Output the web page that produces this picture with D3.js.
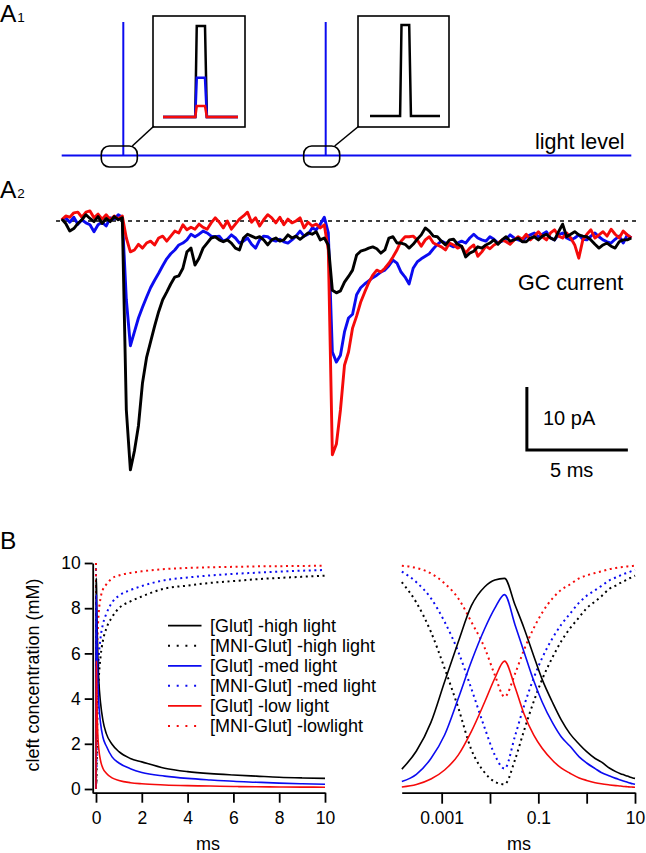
<!DOCTYPE html>
<html><head><meta charset="utf-8">
<script src="https://cdn.jsdelivr.net/npm/d3@7"></script>
<style>
html,body{margin:0;padding:0;background:#fff;}
svg{display:block;font-family:"Liberation Sans",Arial,Helvetica,sans-serif;}
</style>
</head><body>
<svg id="c" width="646" height="853"></svg>
<script>
// ---------- DATA ----------
// A2: GC current traces (pA), sampled every dt ms
const dt = 0.2;
const traceBlack = [0.3,-0.4,-1.6,-1.2,-0.4,0.2,1.0,0.4,-0.1,0.7,-0.4,0.4,-0.1,0.7,0.2,0.5,
 -30,-39.5,-36.5,-32.5,-25.7,-21.7,-19.2,-16.7,-14.4,-12.5,-11.3,-10.0,-8.9,-8.7,-7.5,-4.9,-4.3,-7.0,-5.9,-4.3,-3.5,-2.7,
 -2.5,-3.0,-3.3,-3.0,-3.5,-4.3,-4.6,-2.7,-2.1,-2.4,-2.7,-2.5,-3.0,-3.8,-3.0,-2.7,-3.2,-3.0,-2.2,-2.7,-2.4,-2.9,-2.4,-1.9,-2.1,-1.7,-3.0,-2.7,
 -3.8,-11.0,-11.4,-11.1,-9.7,-8.8,-7.8,-5.4,-4.8,-4.6,-4.3,-4.1,-4.4,-5.1,-4.6,-2.7,-2.5,-3.5,-3.5,-3.7,-4.3,-3.7,-2.9,-2.2,-1.1,-1.6,-2.4,
 -2.5,-3.2,-3.8,-3.0,-2.9,-3.7,-4.0,-5.7,-5.1,-4.8,-4.1,-4.3,-3.8,-3.5,-3.0,-3.7,-3.0,-2.5,-3.2,-3.0,-2.7,-3.3,-3.3,-2.7,-2.5,-3.0,-2.4,-2.1,-2.7,-3.0,-1.7,-0.5,-2.5,-2.1,-1.7,-2.2,-2.4,-2.5,-3.0,-3.7,-4.3,-3.8,-3.5,-4.0,-4.3,-3.3,-3.0,-3.0,-2.7];
const traceBlue = [0.2,0.5,-0.2,0.6,-0.5,0.2,-0.3,-0.6,-1.7,-0.6,-0.2,-0.8,0.5,0.3,1.0,0.6,
 -12.5,-19.8,-17.6,-15.4,-13.7,-12.1,-10.6,-9.4,-8.3,-7.1,-6.0,-5.2,-4.6,-3.8,-3.5,-3.0,-2.1,-2.5,-2.1,-1.6,-1.9,-2.4,-2.5,
 -2.4,-3.2,-2.9,-2.2,-2.7,-3.5,-3.2,-2.7,-3.7,-4.3,-3.0,-2.4,-2.5,-3.0,-3.2,-2.9,-3.3,-3.5,-3.0,-2.4,-1.6,-2.4,-2.1,-1.1,-1.4,-0.5,0.6,-1.9,
 -20.8,-22.4,-21.3,-17.6,-15.4,-14.8,-11.7,-10.6,-10.0,-9.5,-9.0,-8.6,-8.1,-7.8,-7.1,-6.2,-6.7,-8.1,-8.9,-10.0,-7.5,-6.5,-6.0,-5.6,-5.2,-4.4,
 -3.7,-3.2,-3.5,-3.8,-4.1,-3.5,-3.2,-3.5,-2.7,-2.1,-2.7,-3.0,-3.2,-2.5,-2.9,-3.5,-3.2,-2.9,-2.2,-2.7,-3.0,-3.2,-2.5,-2.2,-1.9,-2.5,-2.1,-1.7,
 -2.7,-3.0,-2.2,-1.9,-2.7,-3.0,-2.7,-2.2,-2.9,-3.0,-2.4,-1.9,-2.5,-3.0,-3.3,-3.5,-2.9,-2.4,-3.5,-2.2,-2.7];
const traceRed = [0.2,0.8,0.6,1.3,1.4,0.6,1.4,1.6,0.5,1.1,0.3,1.0,0.2,0.8,0.3,0.8,
 -2.7,-4.9,-4.6,-3.7,-4.3,-3.5,-3.2,-3.8,-2.7,-2.4,-3.2,-2.4,-1.6,-1.9,-0.6,-1.4,-1.0,-1.3,-0.5,-1.0,-1.3,-0.3,0.5,
 -0.2,-1.1,0.0,-1.3,-0.5,0.3,0.8,1.4,-0.2,0.5,-0.8,0.2,1.0,0.5,-0.3,0.6,-0.6,0.3,-0.3,0.0,0.5,-1.1,-0.2,-0.8,-0.5,-1.1,-0.6,-4.6,
 -37.1,-35.4,-30.0,-22.9,-20.8,-17.0,-15.1,-12.9,-11.3,-9.8,-8.6,-7.8,-8.1,-7.5,-6.7,-5.7,-4.6,-3.2,-2.5,-2.5,-2.4,-3.0,-4.0,-3.0,-2.5,
 -3.5,-3.8,-4.1,-4.6,-3.5,-3.8,-4.3,-4.0,-5.1,-4.3,-3.8,-5.6,-4.9,-4.0,-4.4,-3.8,-3.5,-3.0,-3.3,-3.7,-3.0,-2.5,-2.9,-2.1,-3.0,-2.4,-1.7,
 -2.5,-3.0,-1.9,-1.4,-2.4,-2.7,-1.9,-2.7,-3.8,-5.9,-3.0,-2.1,-1.4,-2.7,-2.2,-1.7,-2.4,-1.3,-2.1,-2.7,-1.6,-2.2,-2.7];
const traceColors = ["#0b0bf0", "#f50a0a", "#000000"];
const stimTimes = [3.05, 13.07];          // ms, flash times (light level)
const scaleBarMs = 5, scaleBarPA = 10;

// A1 insets: normalized pulse shape and amplitudes
const pulseX = [0, 0.43, 0.45, 0.56, 0.585, 1];
const pulseY = [0, 0, 1, 1, 0, 0];
const inset1Amps = [1, 0.43, 0.12];       // high (black), med (blue), low (red)
const inset1Colors = ["#000000", "#0b0bf0", "#f50a0a"];
const inset2Amps = [1];

// B: cleft concentration (mM) vs time (ms)
const concTime = [0, 0.00015, 0.0003, 0.0006, 0.00115, 0.0022, 0.0041, 0.0078, 0.0126, 0.02, 0.033, 0.05, 0.08, 0.12, 0.2, 0.3, 0.45, 0.7, 1, 1.5, 2, 3, 4, 5, 6, 7, 8, 9, 10];
const glutHigh = [0, 0.88, 1.68, 2.95, 4.75, 6.5, 8.1, 8.95, 9.25, 9.32, 8.14, 7.15, 5.9, 4.85, 3.8, 3.05, 2.45, 1.98, 1.65, 1.35, 1.2, 0.92, 0.77, 0.68, 0.62, 0.57, 0.52, 0.49, 0.47];
const mniHigh  = [10, 9.15, 8.25, 6.95, 5.34, 3.6, 1.75, 0.72, 0.32, 0.21, 1.3, 2.55, 3.86, 4.85, 5.86, 6.55, 7.1, 7.6, 8.0, 8.3, 8.52, 8.87, 9.0, 9.12, 9.2, 9.28, 9.34, 9.39, 9.44];
const glutMed  = [0, 0.33, 0.65, 1.35, 2.39, 4.0, 5.63, 7.1, 8.0, 8.6, 7.26, 6.1, 4.8, 3.85, 2.9, 2.3, 1.9, 1.42, 1.15, 0.9, 0.73, 0.57, 0.47, 0.4, 0.34, 0.3, 0.26, 0.23, 0.21];
const mniMed   = [10, 9.62, 9.15, 8.44, 7.4, 6.08, 4.45, 2.69, 1.5, 0.9, 2.35, 3.64, 4.9, 5.8, 6.7, 7.28, 7.75, 8.25, 8.55, 8.8, 8.98, 9.24, 9.36, 9.45, 9.52, 9.57, 9.62, 9.66, 9.69];
const glutLow  = [0, 0.09, 0.2, 0.44, 0.84, 1.5, 2.54, 3.86, 4.9, 5.66, 4.5, 3.35, 2.39, 1.8, 1.25, 0.92, 0.7, 0.49, 0.38, 0.28, 0.23, 0.18, 0.15, 0.13, 0.11, 0.1, 0.09, 0.085, 0.08];
const mniLow   = [10, 9.88, 9.78, 9.54, 9.1, 8.44, 7.4, 6.23, 5.04, 4.08, 5.1, 6.13, 7.11, 7.8, 8.45, 8.82, 9.05, 9.32, 9.45, 9.56, 9.63, 9.73, 9.78, 9.81, 9.83, 9.85, 9.86, 9.87, 9.88];
const seriesLabels = ["[Glut] -high light", "[MNI-Glut] -high light", "[Glut] -med light", "[MNI-Glut] -med light", "[Glut] -low light", "[MNI-Glut] -lowlight"];
const seriesColors = ["#000000", "#000000", "#0b0bf0", "#0b0bf0", "#f50a0a", "#f50a0a"];
const seriesDotted = [false, true, false, true, false, true];
const linTicks = [0, 2, 4, 6, 8, 10];
const logTicks = [0.001, 0.01, 0.1, 1, 10];
const logTickLabels = ["0.001", "", "0.1", "", "10"];
const yTicks = [0, 2, 4, 6, 8, 10];

// ---------- DRAWING ----------
const svg = d3.select("#c");
const FONT = '"Liberation Sans",Arial,Helvetica,sans-serif';

function panelLabel(x, y, letter, sub) {
  const t = svg.append("text").attr("x", x).attr("y", y).attr("font-size", 24.5).attr("fill", "#000").text(letter);
  if (sub) t.append("tspan").attr("font-size", 13.5).attr("dx", 1).text(sub);
}

// ===== A1 =====
panelLabel(0, 22, "A", "1");
panelLabel(0, 198, "A", "2");

const xT = d3.scaleLinear().domain([0, 28.2]).range([61.7, 631.3]);
const yT = d3.scaleLinear().domain([0, -40]).range([221, 473]);
const lightY = 155.6, flashTop = 22;

svg.append("line").attr("x1", xT(0)).attr("x2", xT(28.2)).attr("y1", lightY).attr("y2", lightY)
  .attr("stroke", "#0b0bf0").attr("stroke-width", 2);
svg.selectAll(".flash").data(stimTimes).join("line").attr("class", "flash")
  .attr("x1", d => xT(d)).attr("x2", d => xT(d)).attr("y1", flashTop).attr("y2", lightY)
  .attr("stroke", "#0b0bf0").attr("stroke-width", 2);

// callout rounded rects
const callW = 36, callH = 21;
svg.selectAll(".callout").data(stimTimes).join("rect").attr("class", "callout")
  .attr("x", d => xT(d) - 22).attr("y", 146).attr("width", callW).attr("height", callH)
  .attr("rx", 8).attr("ry", 8).attr("fill", "none").attr("stroke", "#000").attr("stroke-width", 1.6);

// inset boxes
const insets = [
  {x0: 153, x1: 245, amps: inset1Amps, colors: inset1Colors, px0: 163, px1: 238, base: 117, top: 26},
  {x0: 358, x1: 449, amps: inset2Amps, colors: ["#000000"], px0: 370, px1: 440, base: 116, top: 25}
];
insets.forEach((ins, k) => {
  svg.append("rect").attr("x", ins.x0).attr("y", 16).attr("width", ins.x1 - ins.x0).attr("height", 111)
    .attr("fill", "#fff").attr("stroke", "#000").attr("stroke-width", 1.6);
  const sx = d3.scaleLinear().domain([0, 1]).range([ins.px0, ins.px1]);
  const sy = d3.scaleLinear().domain([0, 1]).range([ins.base, ins.top]);
  ins.amps.forEach((a, j) => {
    const pts = pulseX.map((p, i) => [p, pulseY[i] * a]);
    svg.append("path").attr("d", d3.line().x(d => sx(d[0])).y(d => sy(d[1]))(pts))
      .attr("fill", "none").attr("stroke", ins.colors[j]).attr("stroke-width", 2.5).attr("stroke-linejoin", "miter");
  });
  // connector line
  const cx = xT(stimTimes[k]) + 9;
  svg.append("line").attr("x1", cx).attr("y1", 146).attr("x2", ins.x0 + 1).attr("y2", 126)
    .attr("stroke", "#000").attr("stroke-width", 1.6);
});
svg.append("text").attr("x", 535).attr("y", 148.5).attr("font-size", 21.5).text("light level");

// ===== A2 =====
svg.append("line").attr("x1", xT(-0.28)).attr("x2", xT(28.5)).attr("y1", yT(0)).attr("y2", yT(0))
  .attr("stroke", "#000").attr("stroke-width", 1.6).attr("stroke-dasharray", "4,4");
const traceLine = d3.line().x((d, i) => xT(i * dt)).y(d => yT(d));
[traceBlue, traceRed, traceBlack].forEach((tr, k) => {
  svg.append("path").attr("d", traceLine(tr)).attr("fill", "none")
    .attr("stroke", traceColors[k]).attr("stroke-width", 2.9).attr("stroke-linejoin", "round");
});
svg.append("text").attr("x", 518).attr("y", 289.5).attr("font-size", 21.5).text("GC current");
// scale bar
const sbT = 23.03, sbP = -36.35;
svg.append("path").attr("d", d3.line()([[xT(sbT), yT(sbP + scaleBarPA)], [xT(sbT), yT(sbP)], [xT(sbT + scaleBarMs), yT(sbP)]]))
  .attr("fill", "none").attr("stroke", "#000").attr("stroke-width", 3);
svg.append("text").attr("x", 543).attr("y", 425).attr("font-size", 20).text(scaleBarPA + " pA");
svg.append("text").attr("x", 550).attr("y", 477).attr("font-size", 20).text(scaleBarMs + " ms");

// ===== B =====
panelLabel(0, 549, "B", null);
const yC = d3.scaleLinear().domain([-0.177, 10]).range([793, 563]);
const xL = d3.scaleLinear().domain([-0.144, 10]).range([92.7, 325]);
const xR = d3.scaleLog().domain([0.000149, 10]).range([401.7, 635]);

function styleAxis(g) {
  g.select(".domain").attr("stroke", "#000").attr("stroke-width", 1.8);
  g.selectAll(".tick line").attr("stroke", "#000").attr("stroke-width", 1.8);
  g.selectAll(".tick text").attr("font-size", 17.5).attr("font-family", FONT).attr("fill", "#000");
}
svg.append("g").attr("transform", "translate(92.7,0)")
  .call(d3.axisLeft(yC).tickValues(yTicks).tickSize(8).tickSizeOuter(0).tickPadding(4).tickFormat(d3.format("d")))
  .call(styleAxis);
svg.append("g").attr("transform", "translate(0,792.7)")
  .call(d3.axisBottom(xL).tickValues(linTicks).tickSize(10).tickSizeOuter(0).tickPadding(9).tickFormat(d3.format("d")))
  .call(styleAxis);
svg.append("g").attr("transform", "translate(0,792.7)")
  .call(d3.axisBottom(xR).tickValues(logTicks).tickSize(11).tickSizeOuter(0).tickPadding(8).tickFormat((d, i) => logTickLabels[i]))
  .call(styleAxis);

svg.append("text").attr("transform", "translate(39,675) rotate(-90)").attr("text-anchor", "middle")
  .attr("font-size", 18).text("cleft concentration (mM)");
svg.append("text").attr("x", 208).attr("y", 850).attr("text-anchor", "middle").attr("font-size", 18).text("ms");
svg.append("text").attr("x", 519).attr("y", 850).attr("text-anchor", "middle").attr("font-size", 18).text("ms");

const allSeries = [glutHigh, mniHigh, glutMed, mniMed, glutLow, mniLow];
const order = [1, 3, 5, 0, 2, 4];
const lineL = d3.line().x(d => xL(d[0])).y(d => yC(d[1])).curve(d3.curveMonotoneX);
const lineR = d3.line().x(d => xR(d[0])).y(d => yC(d[1])).curve(d3.curveMonotoneX);
order.forEach(k => {
  const pts = concTime.map((t, i) => [t, allSeries[k][i]]);
  const common = p => p.attr("fill", "none").attr("stroke", seriesColors[k])
    .attr("stroke-width", seriesDotted[k] ? 2 : 1.6)
    .attr("stroke-dasharray", seriesDotted[k] ? "2,3.6" : null);
  svg.append("path").attr("d", lineL(pts)).call(common);
  svg.append("path").attr("d", lineR(pts.filter(p => p[0] > 0))).call(common);
});

// legend
seriesLabels.forEach((lab, k) => {
  const y = 625.7 + k * 20.05;
  svg.append("line").attr("x1", 168).attr("x2", 201.5).attr("y1", y).attr("y2", y)
    .attr("stroke", seriesColors[k]).attr("stroke-width", seriesDotted[k] ? 2 : 1.8)
    .attr("stroke-dasharray", seriesDotted[k] ? "2,6.7" : null);
  svg.append("text").attr("x", 210).attr("y", y).attr("dy", "0.36em").attr("font-size", 18).text(lab);
});
</script>
</body></html>
